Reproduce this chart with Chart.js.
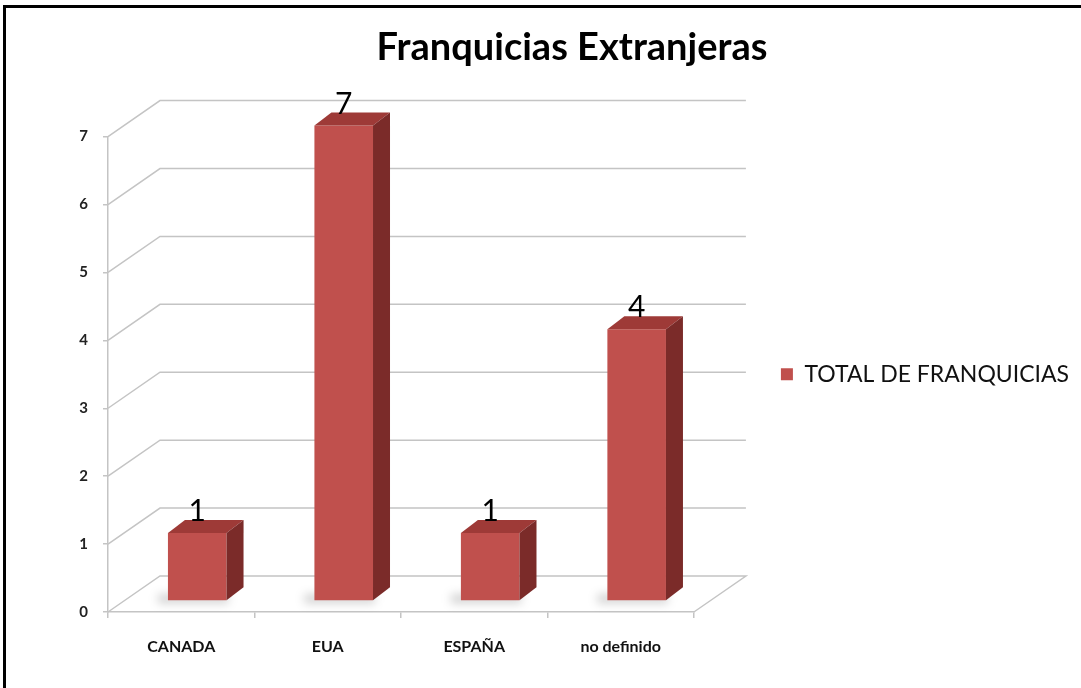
<!DOCTYPE html>
<html lang="es">
<head>
<meta charset="utf-8">
<title>Franquicias Extranjeras</title>
<script src="https://cdn.jsdelivr.net/npm/chart.js@4"></script>
<style>
  html, body { margin: 0; padding: 0; background: #fff; }
  canvas { display: block; }
</style>
</head>
<body>
<canvas id="bar" width="1081" height="688"></canvas>
<script>
// Datos del grafico
const categorias = ["CANADA", "EUA", "ESPAÑA", "no definido"];
const totalFranquicias = [1, 7, 1, 4];
const ticksY = [0, 1, 2, 3, 4, 5, 6, 7];
const nombreSerie = "TOTAL DE FRANQUICIAS";
const titulo = "Franquicias Extranjeras";

const fuente = "Lato, 'Open Sans', sans-serif";
const rojo = "#C0504D";
const rojoTapa = "#9E3A37";
const rojoLado = "#7B2B29";
const gris = "#c4c4c4";

// profundidad de la pared del fondo y de las barras (efecto 3D)
const fondoX = 52, fondoY = -36;
const barraX = 16, barraY = -11;
const ladoX = 17, ladoY = -13;

// la leyenda va a la derecha; el padding ajusta el ancho para que el area quede en x=694
const tamLeyenda = 23;
const medir = document.createElement("canvas").getContext("2d");
medir.font = tamLeyenda + "px " + fuente;
const anchoItem = 12 + tamLeyenda / 2 + medir.measureText(nombreSerie).width;
const paddingLeyenda = Math.max(4, Math.round(375 - anchoItem));

const efecto3D = {
  id: "efecto3D",
  beforeDatasetsDraw(chart) {
    const { ctx, chartArea, scales } = chart;
    const izq = chartArea.left, der = chartArea.right;
    ctx.save();
    ctx.strokeStyle = gris;
    ctx.lineWidth = 1.5;
    ticksY.forEach((v) => {
      const y = scales.y.getPixelForValue(v);
      ctx.beginPath();
      ctx.moveTo(izq, y);
      ctx.lineTo(izq + fondoX, y + fondoY);
      ctx.lineTo(der + fondoX, y + fondoY);
      if (v === 0) ctx.lineTo(der, y);
      ctx.stroke();
    });
    // sombra suave al pie de cada barra
    const meta = chart.getDatasetMeta(0);
    ctx.filter = "blur(5px)";
    ctx.fillStyle = "rgba(0,0,0,0.18)";
    meta.data.forEach((b) => {
      const base = b.base + barraY;
      const x = b.x + barraX;
      ctx.fillRect(x - b.width / 2 - 10, base - 6, b.width + 12, 9);
    });
    ctx.restore();
    // las barras se dibujan desplazadas hacia el fondo
    ctx.save();
    ctx.translate(barraX, barraY);
  },
  afterDatasetsDraw(chart) {
    const { ctx } = chart;
    const meta = chart.getDatasetMeta(0);
    meta.data.forEach((b, i) => {
      const l = b.x - b.width / 2, r = b.x + b.width / 2;
      // tapa
      ctx.fillStyle = rojoTapa;
      ctx.beginPath();
      ctx.moveTo(l, b.y);
      ctx.lineTo(r, b.y);
      ctx.lineTo(r + ladoX, b.y + ladoY);
      ctx.lineTo(l + ladoX, b.y + ladoY);
      ctx.closePath();
      ctx.fill();
      // lado
      ctx.fillStyle = rojoLado;
      ctx.beginPath();
      ctx.moveTo(r, b.y);
      ctx.lineTo(r + ladoX, b.y + ladoY);
      ctx.lineTo(r + ladoX, b.base + ladoY);
      ctx.lineTo(r, b.base);
      ctx.closePath();
      ctx.fill();
      // etiqueta del valor
      ctx.fillStyle = "#000";
      ctx.font = "30px " + fuente;
      ctx.textAlign = "center";
      ctx.textBaseline = "alphabetic";
      ctx.fillText(String(totalFranquicias[i]), b.x, b.y + ladoY + 1);
    });
    ctx.restore();
  },
  afterDraw(chart) {
    // marco negro arriba y a la izquierda
    const { ctx } = chart;
    ctx.save();
    ctx.fillStyle = "#000";
    ctx.fillRect(3, 5, 3, 683);
    ctx.fillRect(3, 5, 1078, 3);
    ctx.restore();
  },
};

const configBar = {
  type: "bar",
  data: {
    labels: categorias,
    datasets: [
      {
        label: nombreSerie,
        data: totalFranquicias,
        backgroundColor: rojo,
        borderWidth: 0,
        categoryPercentage: 1,
        barPercentage: 0.4,
        clip: false,
      },
    ],
  },
  options: {
    responsive: false,
    animation: false,
    layout: { padding: { left: 65, right: 2, top: 10, bottom: 16 } },
    scales: {
      x: {
        grid: { drawOnChartArea: false, drawTicks: true, tickLength: 6, color: gris, lineWidth: 1.5 },
        border: { display: true, color: gris, width: 1.5 },
        ticks: { color: "#111", padding: 19, font: { family: fuente, size: 16, weight: "bold" } },
        afterFit: (s) => { s.height = 60; },
      },
      y: {
        min: 0,
        max: 7,
        grid: { drawOnChartArea: false, drawTicks: true, tickLength: 5, color: gris, lineWidth: 1.5 },
        border: { display: true, color: gris, width: 1.5 },
        ticks: { stepSize: 1, color: "#222", padding: 15, font: { family: fuente, size: 15, weight: "bold" } },
        afterFit: (s) => { s.width = 43; },
      },
    },
    plugins: {
      title: {
        display: true,
        text: titulo,
        color: "#000",
        font: { family: fuente, size: 38, weight: "bold" },
        padding: { top: 15, bottom: 66 },
      },
      legend: {
        position: "right",
        fullSize: false,
        maxWidth: 500,
        labels: {
          boxWidth: 12,
          boxHeight: 12,
          padding: paddingLeyenda,
          color: "#111",
          font: { family: fuente, size: tamLeyenda },
        },
      },
      tooltip: { enabled: false },
    },
  },
  plugins: [efecto3D],
};

new Chart(document.getElementById("bar"), configBar);
</script>
</body>
</html>
